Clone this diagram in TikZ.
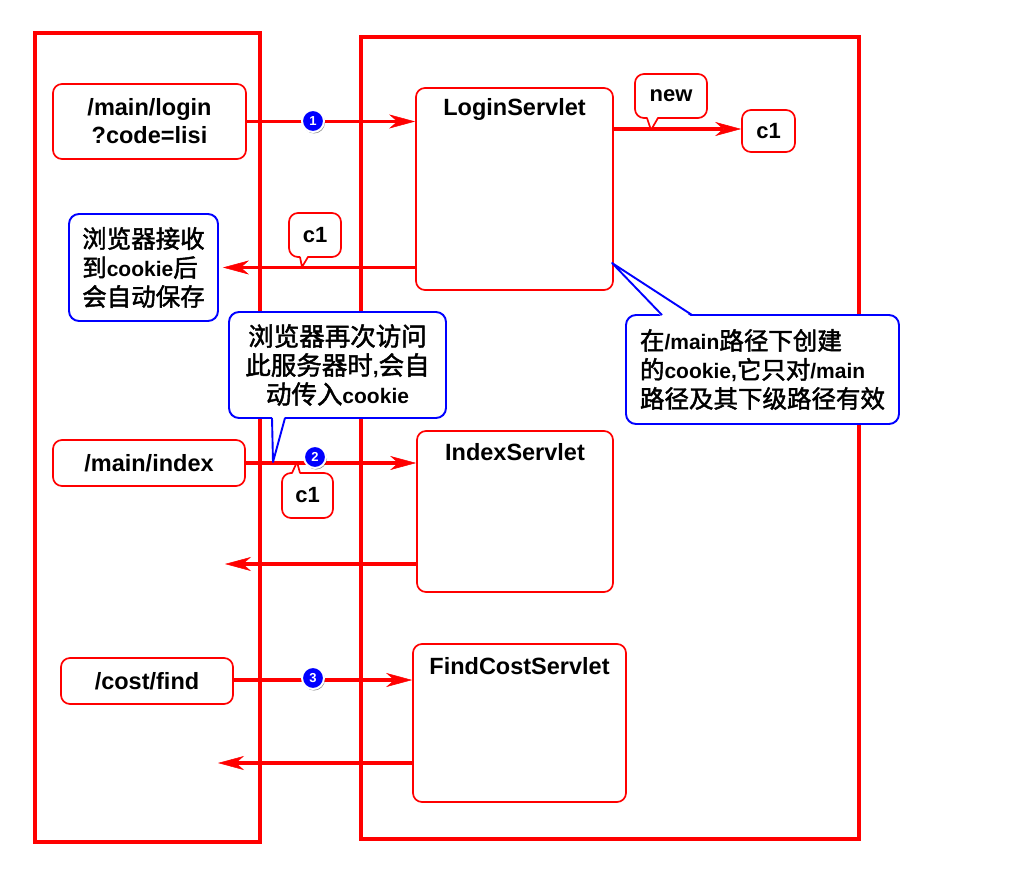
\documentclass[tikz,border=0pt]{standalone}
\usepackage{fontspec}
\setmainfont{Liberation Sans}
\newfontfamily\cjk{Noto Sans CJK SC}[FakeBold=1.8]
\usetikzlibrary{arrows.meta,shadows}
\definecolor{rd}{RGB}{255,0,0}
\definecolor{bl}{RGB}{0,0,255}
\newcommand\zhtxt[1]{{\cjk\mdseries\fontsize{24.5}{29}\selectfont #1}}
\newcommand\zhbig[1]{{\cjk\mdseries\fontsize{25.5}{29}\selectfont #1}}
\begin{document}
\begin{tikzpicture}[x=1pt,y=-1pt,
 frame/.style={draw=rd,line width=3.2pt},
 rbox/.style={draw=rd,line width=1.7pt,rounded corners=9pt,fill=white,align=center,inner sep=0pt,
   font=\bfseries\fontsize{23.5}{28}\selectfont},
 rcall/.style={rbox,font=\bfseries\fontsize{22}{28}\selectfont},
 bbox/.style={draw=bl,line width=1.9pt,rounded corners=10pt,fill=white,inner sep=0pt,
   font=\bfseries\fontsize{21}{29}\selectfont},
 ttl/.style={font=\bfseries\fontsize{23.5}{28}\selectfont,anchor=center,inner sep=0pt},
 arr/.style={draw=rd,line width=3.1pt,-{Stealth[length=26pt,width=14pt,inset=8pt,line width=0.5pt]}},
 rtail/.style={draw=rd,line width=1.7pt,line join=round},
 btail/.style={draw=bl,line width=1.9pt,line join=round},
 num/.style={circle,fill=bl,draw=white,line width=2pt,minimum size=22pt,inner sep=0pt,text=white,
   font=\bfseries\fontsize{13}{13}\selectfont,
   drop shadow={shadow xshift=1pt,shadow yshift=-1.5pt,opacity=0.45,fill=black}},
]
\useasboundingbox (0,0) rectangle (1024,882);
\fill[white] (0,0) rectangle (1024,882);

% frames
\draw[frame] (35,33) rectangle (260,842);
\draw[frame] (361,37) rectangle (859,839);

% nodes
\node[rbox,minimum width=193pt,minimum height=75pt] (login) at (149.5,121.5) {/main/login\\?code=lisi};
\node[rbox,minimum width=197pt,minimum height=202pt,
  label={[ttl,yshift=-22pt]north:LoginServlet}] (ls) at (514.5,189) {};
\node[rcall,minimum width=53pt,minimum height=42pt] (c1a) at (768.5,131) {c1};
\node[bbox,minimum width=149pt,minimum height=107pt,align=left] (recv) at (143.5,267.5)
  {\zhtxt{浏览器接收}\\\zhtxt{到}cookie\zhtxt{后}\\\zhtxt{会自动保存}};

\node[rbox,minimum width=192pt,minimum height=46pt] (index) at (149,463) {/main/index};
\node[rbox,minimum width=196pt,minimum height=161pt,
  label={[ttl,yshift=-22pt]north:IndexServlet}] (is) at (515,511.5) {};

\node[rbox,minimum width=172pt,minimum height=46pt] (find) at (147,681) {/cost/find};
\node[rbox,minimum width=213pt,minimum height=158pt,
  label={[ttl,yshift=-23pt]north:FindCostServlet}] (fcs) at (519.5,723) {};

\coordinate (ret2) at (225,564);
\coordinate (ret3) at (218,763);

% connectors
\draw[arr] (login.east) -- (login.east -| ls.west);
\draw[arr] ([yshift=2pt]ls.east |- c1a.west) -- ([yshift=2pt]c1a.west);
\draw[arr] (ls.west |- recv.east) -- ([xshift=4pt]recv.east);
\draw[arr] (index.east) -- (index.east -| is.west);
\draw[arr] (is.west |- ret2) -- (ret2);
\draw[arr] ([yshift=1pt]find.east) -- ([yshift=1pt]find.east -| fcs.west);
\draw[arr] (fcs.west |- ret3) -- (ret3);

% callouts
\node[rcall,minimum width=72pt,minimum height=44pt] (new) at (671,96) {new};
\fill[white] (647,116) -- (651,130) -- (658,116) -- cycle;
\draw[rtail] (647,118) -- (651,130) -- (658,118);

\node[rcall,minimum width=52pt,minimum height=44pt] (c1b) at (315,235) {c1};
\fill[white] (300,255) -- (302,267) -- (308,255) -- cycle;
\draw[rtail] (300,257) -- (302,267) -- (308,257);

\node[rcall,minimum width=51pt,minimum height=45pt] (c1c) at (307.5,495.5) {c1};
\fill[white] (292,475) -- (297,462) -- (300,475) -- cycle;
\draw[rtail] (292,473) -- (297,462) -- (300,473);

\node[bbox,minimum width=217pt,minimum height=106pt,align=center] (revisit) at (337.5,365)
  {\zhbig{浏览器再次访问}\\\zhbig{此服务器时},\zhbig{会自}\\\zhbig{动传入}cookie};
\fill[white] (272,416) -- (273,462) -- (285,416) -- cycle;
\draw[btail] (272,418) -- (273,462) -- (285,418);

\node[bbox,minimum width=273pt,minimum height=109pt,align=left] (scope) at (762.5,369.5)
  {\zhtxt{在}/main\zhtxt{路径下创建}\\\zhtxt{的}cookie,\zhtxt{它只对}/main\\\zhtxt{路径及其下级路径有效}};
\fill[white] (662,317) -- (612,263) -- (692,317) -- cycle;
\draw[btail] (662,315) -- (612,263) -- (692,315);

% step numbers
\node[num] (n1) at (313,121) {1};
\node[num] (n2) at (315,457) {2};
\node[num] (n3) at (313,678) {3};
\end{tikzpicture}
\end{document}
